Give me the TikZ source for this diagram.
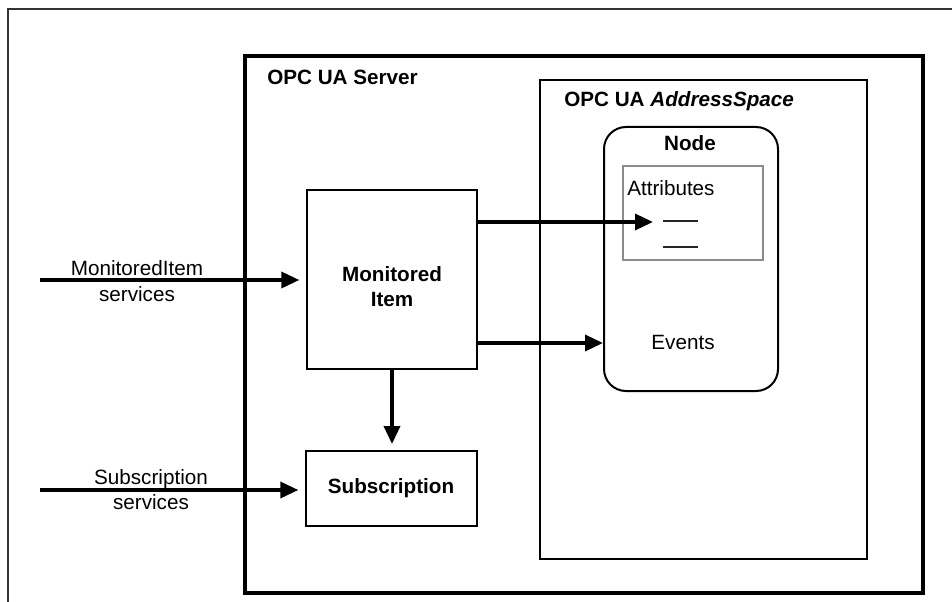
\documentclass[tikz,border=0pt]{standalone}
\usepackage{fontspec}
\setmainfont{Liberation Sans}
\usetikzlibrary{arrows.meta}
\begin{document}
\begin{tikzpicture}[x=0.75pt,y=-0.75pt,
  lbl/.style={font=\fontsize{15.5}{19}\selectfont, inner sep=0pt, align=center},
  blbl/.style={lbl, font=\fontsize{15.5}{19}\selectfont\bfseries},
  bx/.style={draw, line width=1.5pt, inner sep=0pt},
  arr/.style={line width=2.6pt, -{Triangle[length=13.5pt,width=12pt]}}]
\useasboundingbox (0,0) rectangle (952,602);
% outer frame
\node[draw=black!80, line width=1.1pt, inner sep=0pt, minimum width=744pt, minimum height=480.75pt] (outer) at (504,329.5) {};
% server
\node[draw, line width=2.4pt, inner sep=0pt, minimum width=508.5pt, minimum height=402.75pt] (server) at (584,324.5) {};
\node[blbl, anchor=west] (servert) at (267,77) {OPC UA Server};
% address space
\node[bx, minimum width=245.25pt, minimum height=359.25pt] (aspace) at (703.5,319.5) {};
\node[blbl, anchor=west] (aspacet) at (564,101) {OPC UA \textit{AddressSpace}};
% node
\node[bx, rounded corners=16.5pt, minimum width=130.5pt, minimum height=198pt] (nd) at (691,259) {};
\node[blbl] (ndt) at (690,143) {Node};
% attributes
\node[draw=black!45, line width=1.5pt, inner sep=0pt, minimum width=105pt, minimum height=70.5pt] (attr) at (693,213) {};
\node[lbl, anchor=west] (attrt) at (627,188) {Attributes};
\coordinate (d1a) at (663,221); \coordinate (d1b) at (698,221);
\coordinate (d2a) at (663,247); \coordinate (d2b) at (698,247);
\draw[line width=0.8pt, black!85] (d1a) -- (d1b);
\draw[line width=0.8pt, black!85] (d2a) -- (d2b);
\node[lbl] (events) at (683,342) {Events};
% monitored item
\node[bx, minimum width=127.5pt, minimum height=134.25pt] (mi) at (392,279.5) {};
\node[blbl] (mit) at (392,286.5) {Monitored\\Item};
% subscription
\node[bx, minimum width=128.25pt, minimum height=56.25pt] (sub) at (391.5,488.5) {};
\node[blbl] (subt) at (391,488) {Subscription};
% service labels
\node[lbl] (misl) at (137,281) {MonitoredItem\\services};
\node[lbl] (subl) at (151,489.5) {Subscription\\services};
% arrows
\coordinate (misrc) at (40,280);
\coordinate (subsrc) at (40,490);
\draw[arr, shorten >=5pt] (misrc) -- (misrc -| mi.west);
\draw[arr, shorten >=5pt] (subsrc) -- (subsrc -| sub.west);
\coordinate (miA) at (477,222);
\draw[arr, shorten >=7.5pt] (miA) -- (miA -| d1a);
\coordinate (miE) at (477,343);
\draw[arr] (miE) -- (miE -| nd.west);
\draw[arr, shorten >=4.5pt] (mi.south) -- (mi.south |- sub.north);
\end{tikzpicture}
\end{document}
